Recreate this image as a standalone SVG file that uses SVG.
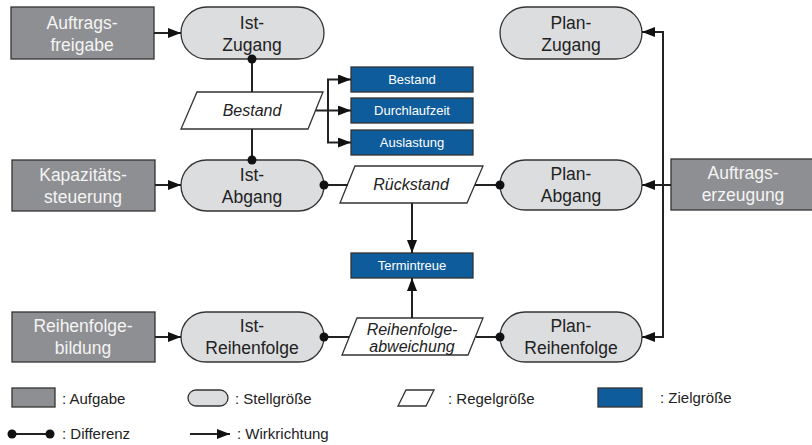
<svg xmlns="http://www.w3.org/2000/svg" width="812" height="445" viewBox="0 0 812 445">
<style>
.task{fill:#8e8f92;stroke:#333;stroke-width:1.3}
.pill{fill:#dcdddf;stroke:#333;stroke-width:1.3}
.reg{fill:#fff;stroke:#333;stroke-width:1.3}
.goal{fill:#0f5c9c;stroke:#333;stroke-width:1.3}
.tw{font-family:"Liberation Sans",Arial,sans-serif;font-size:17.5px;fill:#f4f4f4;text-anchor:middle}
.tp{font-family:"Liberation Sans",Arial,sans-serif;font-size:17.5px;fill:#222;text-anchor:middle}
.ti{font-family:"Liberation Sans",Arial,sans-serif;font-size:16px;font-style:italic;fill:#222;text-anchor:middle}
.tg{font-family:"Liberation Sans",Arial,sans-serif;font-size:13px;fill:#fff;text-anchor:middle}
.tl{font-family:"Liberation Sans",Arial,sans-serif;font-size:15px;fill:#222}
.ln{fill:none;stroke:#222;stroke-width:2}
.arr{marker-end:url(#ah)}
.dot{fill:#111}
</style>
<defs>
<marker id="ah" markerUnits="userSpaceOnUse" markerWidth="13" markerHeight="10" refX="13" refY="5" orient="auto">
<path d="M0,0 L13,5 L0,10 Z" fill="#111"/>
</marker>
</defs>

<g id="auftragsfreigabe"><rect class="task" x="11" y="7" width="143" height="52"/><text class="tw" x="82" y="29">Auftrags-</text><text class="tw" x="82" y="51">freigabe</text></g>
<g id="kapazitaetssteuerung"><rect class="task" x="12" y="160" width="143" height="51"/><text class="tw" x="83" y="181">Kapazitäts-</text><text class="tw" x="83" y="203">steuerung</text></g>
<g id="reihenfolgebildung"><rect class="task" x="12" y="312" width="143" height="50"/><text class="tw" x="83" y="332">Reihenfolge-</text><text class="tw" x="83" y="354">bildung</text></g>
<g id="auftragserzeugung"><rect class="task" x="671" y="159" width="143" height="51"/><text class="tw" x="743" y="179">Auftrags-</text><text class="tw" x="743" y="201">erzeugung</text></g>

<g id="ist-zugang"><rect class="pill" x="181" y="7" width="143" height="52" rx="26"/><text class="tp" x="252" y="29">Ist-</text><text class="tp" x="252" y="51">Zugang</text></g>
<g id="ist-abgang"><rect class="pill" x="181" y="160" width="143" height="51" rx="25.5"/><text class="tp" x="252" y="181">Ist-</text><text class="tp" x="252" y="203">Abgang</text></g>
<g id="ist-reihenfolge"><rect class="pill" x="181" y="312" width="143" height="50" rx="25"/><text class="tp" x="252" y="332">Ist-</text><text class="tp" x="252" y="354">Reihenfolge</text></g>
<g id="plan-zugang"><rect class="pill" x="500" y="7" width="142" height="52" rx="26"/><text class="tp" x="571" y="29">Plan-</text><text class="tp" x="571" y="51">Zugang</text></g>
<g id="plan-abgang"><rect class="pill" x="500" y="160" width="142" height="50" rx="25"/><text class="tp" x="571" y="180">Plan-</text><text class="tp" x="571" y="202">Abgang</text></g>
<g id="plan-reihenfolge"><rect class="pill" x="500" y="312" width="142" height="50" rx="25"/><text class="tp" x="571" y="332">Plan-</text><text class="tp" x="571" y="354">Reihenfolge</text></g>

<g id="bestand-regel"><polygon class="reg" points="197,92 323,92 308,129 181,129"/><text class="ti" x="252" y="116">Bestand</text></g>
<g id="rueckstand"><polygon class="reg" points="355,166 483,166 467,203 340,203"/><text class="ti" x="411" y="190">Rückstand</text></g>
<g id="reihenfolgeabweichung"><polygon class="reg" points="357,318 483,318 468,355 342,355"/><text class="ti" x="412" y="335">Reihenfolge-</text><text class="ti" x="412" y="352">abweichung</text></g>

<g id="ziel-bestand"><rect class="goal" x="351" y="67" width="122" height="25"/><text class="tg" x="412" y="84">Bestand</text></g>
<g id="ziel-durchlaufzeit"><rect class="goal" x="351" y="98" width="122" height="25"/><text class="tg" x="412" y="115">Durchlaufzeit</text></g>
<g id="ziel-auslastung"><rect class="goal" x="351" y="130" width="122" height="25"/><text class="tg" x="412" y="147">Auslastung</text></g>
<g id="ziel-termintreue"><rect class="goal" x="351" y="253" width="122" height="25"/><text class="tg" x="412" y="270">Termintreue</text></g>

<g id="connectors">
<path class="ln arr" d="M154,33 H181"/>
<path class="ln arr" d="M155,185 H181"/>
<path class="ln arr" d="M155,337 H181"/>
<path class="ln" d="M252,59 V92"/>
<path class="ln" d="M252,129 V160"/>
<path class="ln" d="M316,110.5 H328 M328,79.5 V142.5"/>
<path class="ln arr" d="M327,79.5 H351"/>
<path class="ln arr" d="M328,110.5 H351"/>
<path class="ln arr" d="M327,142.5 H351"/>
<path class="ln" d="M324,185 H348"/>
<path class="ln" d="M475,185 H500"/>
<path class="ln arr" d="M412,203 V253"/>
<path class="ln arr" d="M412,318 V278"/>
<path class="ln" d="M324,337 H349"/>
<path class="ln" d="M476,337 H500"/>
<path class="ln" d="M671,185 H663 M663,31 V338"/>
<path class="ln arr" d="M664,32 H642"/>
<path class="ln arr" d="M663,185 H642"/>
<path class="ln arr" d="M664,337 H642"/>
<circle class="dot" cx="252" cy="59" r="4.5"/>
<circle class="dot" cx="252" cy="160" r="4.5"/>
<circle class="dot" cx="324" cy="185" r="4.5"/>
<circle class="dot" cx="500" cy="185" r="4.5"/>
<circle class="dot" cx="324" cy="337" r="4.5"/>
<circle class="dot" cx="500" cy="337" r="4.5"/>
</g>

<g id="legend">
<rect class="task" x="12" y="388" width="43" height="19"/><text class="tl" x="62" y="404">: Aufgabe</text>
<rect class="pill" x="188" y="390" width="40" height="16" rx="8"/><text class="tl" x="235" y="404">: Stellgröße</text>
<polygon class="reg" points="406,390 434,390 426,406 398,406"/><text class="tl" x="448" y="404">: Regelgröße</text>
<rect class="goal" x="598" y="388" width="44" height="19"/><text class="tl" x="660" y="403">: Zielgröße</text>
<path class="ln" d="M12,434 H50"/><circle class="dot" cx="12" cy="434" r="4.5"/><circle class="dot" cx="50" cy="434" r="4.5"/><text class="tl" x="62" y="439">: Differenz</text>
<path class="ln arr" d="M190,434 H230"/><text class="tl" x="237" y="439">: Wirkrichtung</text>
</g>
</svg>
